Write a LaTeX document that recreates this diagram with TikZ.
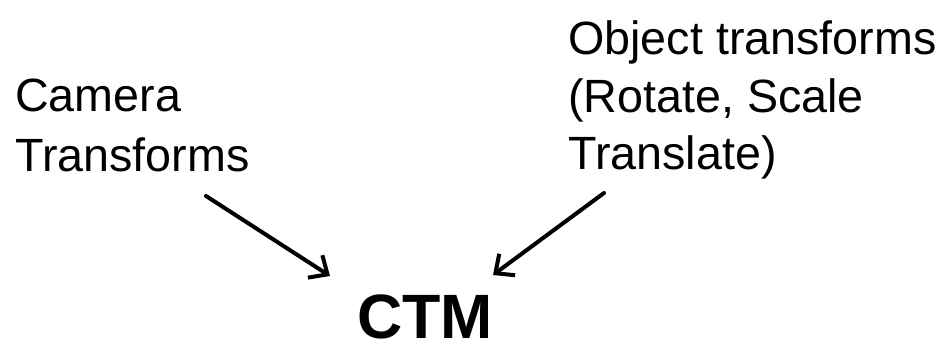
\documentclass[tikz,border=0pt]{standalone}
\usepackage{fontspec}
\setmainfont{Liberation Sans}
\usetikzlibrary{arrows.meta}

\tikzset{
  label text/.style={font=\fontsize{35}{43.5}\selectfont, align=left, inner sep=0pt, anchor=base west},
  ctm text/.style={font=\fontsize{47}{56}\selectfont\bfseries, inner sep=0pt, anchor=base},
  feed/.style={line width=3pt, line cap=round, -{Straight Barb[length=11pt, width=20pt, line width=3pt]}}
}

\begin{document}
\begin{tikzpicture}[x=0.75pt, y=-0.75pt]

\useasboundingbox (0,0) rectangle (947,349);

\node [label text] (cam) at (15,112) {Camera};
\node [label text] (camb) at (15,172) {Transforms};

\node [label text] (obj) at (568,55) {Object transforms};
\node [label text] (objb) at (568,113) {(Rotate, Scale};
\node [label text] (objc) at (568,170) {Translate)};

\node [ctm text] (ctm) at (425,339) {CTM};

\coordinate (camtail) at (206,196);
\coordinate (camtip) at (330,276);
\coordinate (objtail) at (604,193);
\coordinate (objtip) at (493,275);

\draw [feed] (camtail) -- (camtip);
\draw [feed] (objtail) -- (objtip);

\end{tikzpicture}
\end{document}
